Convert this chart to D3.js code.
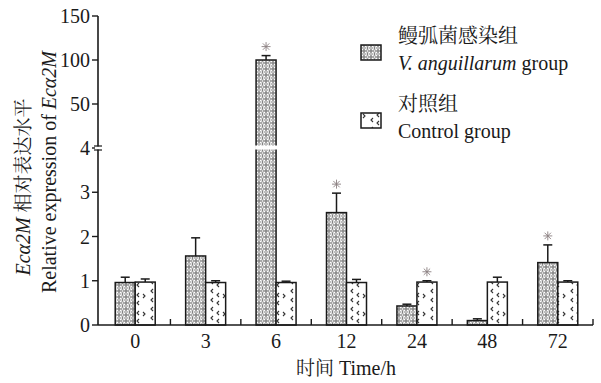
<!DOCTYPE html>
<html>
<head>
<meta charset="utf-8">
<style>
body { margin: 0; background: #fff; }
</style>
</head>
<body>
<svg width="601" height="383"></svg>
<script src="https://cdn.jsdelivr.net/npm/d3@7/dist/d3.min.js"></script>
<script>
var times = ["0", "3", "6", "12", "24", "48", "72"];
var infected = [0.96, 1.56, 100, 2.54, 0.43, 0.10, 1.41];
var infectedErr = [1.08, 1.97, 105, 2.98, 0.47, 0.14, 1.81];
var control = [0.97, 0.96, 0.96, 0.96, 0.97, 0.97, 0.97];
var controlErr = [1.04, 1.00, 0.99, 1.03, 1.00, 1.08, 1.00];
var infectedStar = [false, false, true, true, false, false, true];
var controlStar = [false, false, false, false, true, false, false];
var yTicks = [0, 1, 2, 3, 4, 50, 100, 150];

var svg = d3.select("svg");
var ink = "#1a1a1a";
var serif = "'Liberation Serif'";
var song = "'Noto Serif CJK SC'";

// broken axis: 0-4 linear, then 4 / 50 / 100 / 150 at equal steps
var y = d3.scaleLinear().domain([0, 4, 50, 150]).range([325, 148, 104, 16]);
var x = d3.scaleBand().domain(times).range([100, 593]);

var defs = svg.append("defs");
var p1 = defs.append("pattern").attr("id", "scale").attr("patternUnits", "userSpaceOnUse")
    .attr("width", 7).attr("height", 6);
p1.append("rect").attr("width", 7).attr("height", 6).attr("fill", "#fff");
[[0, 0], [7, 0], [3.5, 3], [0, 6], [7, 6]].forEach(function(c) {
  p1.append("circle").attr("cx", c[0]).attr("cy", c[1]).attr("r", 3.6)
    .attr("fill", "none").attr("stroke", "#777").attr("stroke-width", 0.75);
});
var p2 = defs.append("pattern").attr("id", "dots").attr("patternUnits", "userSpaceOnUse")
    .attr("width", 20).attr("height", 18);
p2.append("rect").attr("width", 20).attr("height", 18).attr("fill", "#fff");
["M3,6 L5,8 L3,10", "M13,1 L11,3 L13,5", "M13,10 L11,12 L13,14", "M19,5 L17,7 L19,9", "M19,13 L17,15 L19,17"]
  .forEach(function(d) {
    p2.append("path").attr("d", d).attr("fill", "none").attr("stroke", "#333").attr("stroke-width", 1.1);
  });

function star(g, cx, cy) {
  var r = 4.5;
  [0, 45, 90, 135].forEach(function(a) {
    var rad = a * Math.PI / 180;
    g.append("line").attr("x1", cx - r * Math.cos(rad)).attr("y1", cy - r * Math.sin(rad))
      .attr("x2", cx + r * Math.cos(rad)).attr("y2", cy + r * Math.sin(rad))
      .attr("stroke", "#8a7f80").attr("stroke-width", 0.9);
  });
}

var bw = 20;
function drawSeries(vals, errs, stars, off, fill) {
  var g = svg.append("g");
  times.forEach(function(t, i) {
    var cx = x(t) + x.bandwidth() / 2 + off;
    var top = y(vals[i]);
    g.append("rect").attr("x", cx - bw / 2).attr("y", top).attr("width", bw)
      .attr("height", y(0) - top).attr("fill", fill).attr("stroke", ink).attr("stroke-width", 1.5);
    var e = y(errs[i]);
    g.append("line").attr("x1", cx).attr("x2", cx).attr("y1", top).attr("y2", e)
      .attr("stroke", ink).attr("stroke-width", 1.5);
    g.append("line").attr("x1", cx - 4.5).attr("x2", cx + 4.5).attr("y1", e).attr("y2", e)
      .attr("stroke", ink).attr("stroke-width", 1.5);
    if (stars[i]) star(g, cx, e - 9);
  });
}
drawSeries(infected, infectedErr, infectedStar, -10, "url(#scale)");
drawSeries(control, controlErr, controlStar, 10, "url(#dots)");

// gap in the tall bar where the axis breaks
var c6 = x("6") + x.bandwidth() / 2 - 10;
svg.append("rect").attr("x", c6 - 11).attr("y", 145.5).attr("width", 22).attr("height", 4).attr("fill", "#fff");

// x axis
svg.append("line").attr("x1", 98).attr("x2", 593).attr("y1", y(0)).attr("y2", y(0))
  .attr("stroke", ink).attr("stroke-width", 1.6);
times.forEach(function(t) {
  var bx = x(t) + x.bandwidth();
  svg.append("line").attr("x1", bx).attr("x2", bx).attr("y1", y(0)).attr("y2", y(0) - 6)
    .attr("stroke", ink).attr("stroke-width", 1.4);
  svg.append("text").attr("x", x(t) + x.bandwidth() / 2).attr("y", 348)
    .attr("text-anchor", "middle").style("font-family", serif).attr("font-size", 20).attr("fill", ink).text(t);
});

// y axis
svg.append("line").attr("x1", 98).attr("x2", 98).attr("y1", y(150)).attr("y2", y(0))
  .attr("stroke", ink).attr("stroke-width", 1.6);
yTicks.forEach(function(v) {
  svg.append("line").attr("x1", 92).attr("x2", 98).attr("y1", y(v)).attr("y2", y(v))
    .attr("stroke", ink).attr("stroke-width", 1.4);
  svg.append("text").attr("x", 90).attr("y", y(v) + 7).attr("text-anchor", "end")
    .style("font-family", serif).attr("font-size", 20).attr("fill", ink).text(v);
});
svg.append("rect").attr("x", 95).attr("y", 146.5).attr("width", 6).attr("height", 3).attr("fill", "#fff");
[146, 150].forEach(function(yy) {
  svg.append("line").attr("x1", 94).attr("x2", 102).attr("y1", yy).attr("y2", yy)
    .attr("stroke", ink).attr("stroke-width", 1.2);
});

// axis titles
var t1 = svg.append("text").attr("transform", "translate(30,187) rotate(-90)")
  .attr("text-anchor", "middle").style("font-family", serif).attr("font-size", 20).attr("fill", ink);
t1.append("tspan").attr("font-style", "italic").text("Ec\u03b12M");
t1.append("tspan").style("font-family", song).attr("font-size", 19).text(" 相对表达水平");
var t2 = svg.append("text").attr("transform", "translate(56,172) rotate(-90)")
  .attr("text-anchor", "middle").style("font-family", serif).attr("font-size", 20).attr("fill", ink);
t2.append("tspan").text("Relative expression of ");
t2.append("tspan").attr("font-style", "italic").text("Ec\u03b12M");

var xt = svg.append("text").attr("x", 346).attr("y", 375).attr("text-anchor", "middle")
  .style("font-family", serif).attr("font-size", 20).attr("fill", ink);
xt.append("tspan").style("font-family", song).attr("font-size", 19).text("时间 ");
xt.append("tspan").text("Time/h");

// legend
var legend = [
  { fill: "url(#scale)", cn: "鳗弧菌感染组", en: "V. anguillarum", tail: " group", y: 45 },
  { fill: "url(#dots)", cn: "对照组", en: "Control group", tail: "", y: 113 }
];
legend.forEach(function(l, i) {
  svg.append("rect").attr("x", 361).attr("y", l.y).attr("width", 20).attr("height", 15)
    .attr("fill", l.fill).attr("stroke", ink).attr("stroke-width", 1.5);
  svg.append("text").attr("x", 398).attr("y", l.y - 2)
    .style("font-family", song).attr("font-size", 20).attr("fill", ink).text(l.cn);
  var tx = svg.append("text").attr("x", 398).attr("y", l.y + 25)
    .style("font-family", serif).attr("font-size", 20).attr("fill", ink);
  if (i === 0) {
    tx.append("tspan").attr("font-style", "italic").text(l.en);
    tx.append("tspan").text(l.tail);
  } else {
    tx.text(l.en);
  }
});
</script>
</body>
</html>
